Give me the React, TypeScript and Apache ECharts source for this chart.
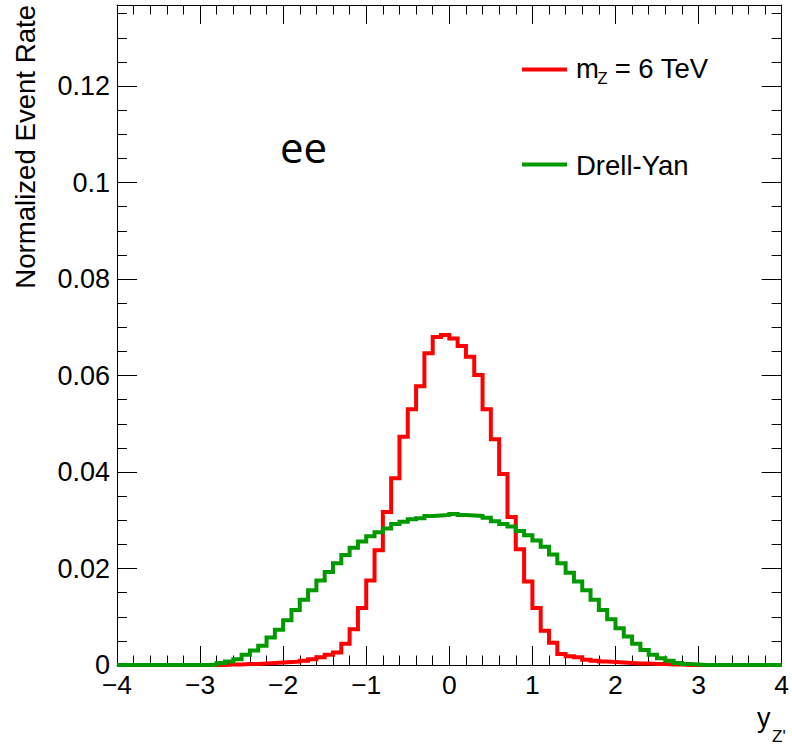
import React, { useEffect, useRef } from "react";
import * as echarts from "echarts";

// Histogram binning: 80 bins of width 0.1 from -4 to 4
const X_MIN = -4;
const X_MAX = 4;
const N_BINS = 80;
const X_TICKS = [-4, -3, -2, -1, 0, 1, 2, 3, 4];
const Y_TICKS = [0, 0.02, 0.04, 0.06, 0.08, 0.1, 0.12];
const Y_MAX = 0.1368;

// m_Z = 6 TeV signal (red), per bin
const signalValues = [
  0, 0, 0, 0, 0, 0, 0, 0, 0, 0,
  0, 0, 0, 0.0001, 0.0001, 0.0002, 0.0002, 0.0003, 0.0004, 0.0005,
  0.0006, 0.0007, 0.0009, 0.0012, 0.0016, 0.0021, 0.0026, 0.0044, 0.0074, 0.0118,
  0.0175, 0.0238, 0.0317, 0.0387, 0.0473, 0.053, 0.0578, 0.0646, 0.068, 0.0684,
  0.0677, 0.0661, 0.0639, 0.0601, 0.053, 0.0468, 0.0396, 0.0307, 0.024, 0.0173,
  0.0118, 0.0071, 0.0046, 0.0023, 0.0018, 0.0016, 0.0011, 0.0009, 0.0007, 0.0006,
  0.0005, 0.0004, 0.0003, 0.0003, 0.0002, 0.0002, 0.0001, 0.0001, 0, 0,
  0, 0, 0, 0, 0, 0, 0, 0, 0, 0,
];

// Drell-Yan background (green), per bin
const drellYanValues = [
  0, 0, 0, 0, 0, 0, 0, 0, 0, 0,
  0, 0.0001, 0.0004, 0.0007, 0.0012, 0.0021, 0.003, 0.004, 0.0057, 0.0073,
  0.0093, 0.0114, 0.0135, 0.0155, 0.0175, 0.0193, 0.0211, 0.0228, 0.0243, 0.0256,
  0.0267, 0.0275, 0.0283, 0.0292, 0.0297, 0.0302, 0.0304, 0.0309, 0.031, 0.0311,
  0.0313, 0.0311, 0.031, 0.0309, 0.0305, 0.0298, 0.0292, 0.0287, 0.0278, 0.0269,
  0.0258, 0.0245, 0.0229, 0.0211, 0.0191, 0.0173, 0.0155, 0.0135, 0.0114, 0.0095,
  0.0076, 0.0059, 0.0044, 0.0031, 0.0021, 0.0014, 0.0009, 0.0004, 0.0002, 0.0001,
  0, 0, 0, 0, 0, 0, 0, 0, 0, 0,
];

const binEdges = Array.from({ length: N_BINS + 1 }, (_, i) =>
  Number((X_MIN + ((X_MAX - X_MIN) * i) / N_BINS).toFixed(3))
);

function toStep(values: number[]) {
  const pts: number[][] = values.map((v, i) => [binEdges[i], v]);
  pts.push([binEdges[N_BINS], values[N_BINS - 1]]);
  return pts;
}

const FONT = "'Liberation Sans', Arial, Helvetica, sans-serif";

export default function App() {
  const ref = useRef<HTMLDivElement>(null);
  useEffect(() => {
    if (!ref.current) return;
    const chart = echarts.init(ref.current, null, { renderer: "svg" });
    const fmtX = (v: number) => (v < 0 ? "\u2212" + Math.abs(v) : String(v));
    const fmtY = (v: number) => {
      const r = Math.round(v * 1000) / 1000;
      return String(r);
    };
    const xCommon = {
      type: "value" as const,
      min: X_MIN,
      max: X_MAX,
      interval: X_TICKS[1] - X_TICKS[0],
      axisLine: { show: true, onZero: false, lineStyle: { color: "#000", width: 1 } },
      axisTick: { show: true, inside: true, length: 19, lineStyle: { color: "#000", width: 1 } },
      minorTick: { show: true, splitNumber: 5, length: 9.5, lineStyle: { color: "#000", width: 1 } },
      splitLine: { show: false },
    };
    const yCommon = {
      type: "value" as const,
      min: 0,
      max: Y_MAX,
      interval: Y_TICKS[1] - Y_TICKS[0],
      axisLine: { show: true, onZero: false, lineStyle: { color: "#000", width: 1 } },
      axisTick: { show: true, inside: true, length: 20, lineStyle: { color: "#000", width: 1 } },
      minorTick: { show: true, splitNumber: 4, length: 10, lineStyle: { color: "#000", width: 1 } },
      splitLine: { show: false },
    };
    chart.setOption({
      animation: false,
      backgroundColor: "#fff",
      grid: { left: 117, top: 5, right: 7, bottom: 80, containLabel: false },
      xAxis: [
        {
          ...xCommon,
          position: "bottom",
          axisLabel: {
            show: true,
            margin: 6,
            color: "#000",
            fontFamily: FONT,
            fontSize: 26.5,
            formatter: fmtX,
            showMinLabel: true,
            showMaxLabel: true,
            hideOverlap: false,
          },
        },
        { ...xCommon, position: "top", axisLabel: { show: false } },
      ],
      yAxis: [
        {
          ...yCommon,
          position: "left",
          axisLabel: {
            show: true,
            margin: 7,
            color: "#000",
            fontFamily: FONT,
            fontSize: 27,
            formatter: fmtY,
            showMaxLabel: false,
          },
        },
        { ...yCommon, position: "right", axisLabel: { show: false } },
      ],
      series: [
        {
          name: "m_Z = 6 TeV",
          type: "line",
          step: "end",
          data: toStep(signalValues),
          xAxisIndex: 0,
          yAxisIndex: 0,
          symbol: "none",
          showSymbol: false,
          clip: false,
          lineStyle: { color: "#ff0000", width: 4, join: "miter" },
          z: 2,
        },
        {
          name: "Drell-Yan",
          type: "line",
          step: "end",
          data: toStep(drellYanValues),
          xAxisIndex: 0,
          yAxisIndex: 0,
          symbol: "none",
          showSymbol: false,
          clip: false,
          lineStyle: { color: "#009900", width: 4, join: "miter" },
          z: 3,
        },
      ],
      graphic: [
        {
          type: "text",
          x: 25,
          y: 5,
          rotation: Math.PI / 2,
          style: {
            text: "Normalized Event Rate",
            font: `27.6px ${FONT}`,
            fill: "#000",
            align: "right",
            verticalAlign: "middle",
          },
        },
        {
          type: "text",
          x: 757,
          y: 718,
          style: { text: "y", font: `27px ${FONT}`, fill: "#000", align: "left", verticalAlign: "middle" },
        },
        {
          type: "text",
          x: 772,
          y: 736,
          style: { text: "Z'", font: `17px ${FONT}`, fill: "#000", align: "left", verticalAlign: "middle" },
        },
        {
          type: "text",
          x: 280,
          y: 146,
          style: { text: "ee", font: `42px 'Open Sans', sans-serif`, fill: "#000", align: "left", verticalAlign: "middle" },
        },
        {
          type: "line",
          shape: { x1: 522, y1: 69.5, x2: 567, y2: 69.5 },
          style: { stroke: "#ff0000", lineWidth: 4 },
        },
        {
          type: "text",
          x: 576,
          y: 68,
          style: { text: "m", font: `27.5px ${FONT}`, fill: "#000", align: "left", verticalAlign: "middle" },
        },
        {
          type: "text",
          x: 597.5,
          y: 77.5,
          style: { text: "Z", font: `16.5px ${FONT}`, fill: "#000", align: "left", verticalAlign: "middle" },
        },
        {
          type: "text",
          x: 607,
          y: 68,
          style: { text: " = 6 TeV", font: `27.5px ${FONT}`, fill: "#000", align: "left", verticalAlign: "middle" },
        },
        {
          type: "line",
          shape: { x1: 522, y1: 164.5, x2: 567, y2: 164.5 },
          style: { stroke: "#009900", lineWidth: 4 },
        },
        {
          type: "text",
          x: 576,
          y: 165.5,
          style: { text: "Drell-Yan", font: `27.5px ${FONT}`, fill: "#000", align: "left", verticalAlign: "middle" },
        },
      ],
    });
    return () => chart.dispose();
  }, []);
  return (
    <div
      ref={ref}
      style={{ position: "fixed", left: 0, top: 0, width: 792, height: 745, background: "#fff" }}
    />
  );
}
